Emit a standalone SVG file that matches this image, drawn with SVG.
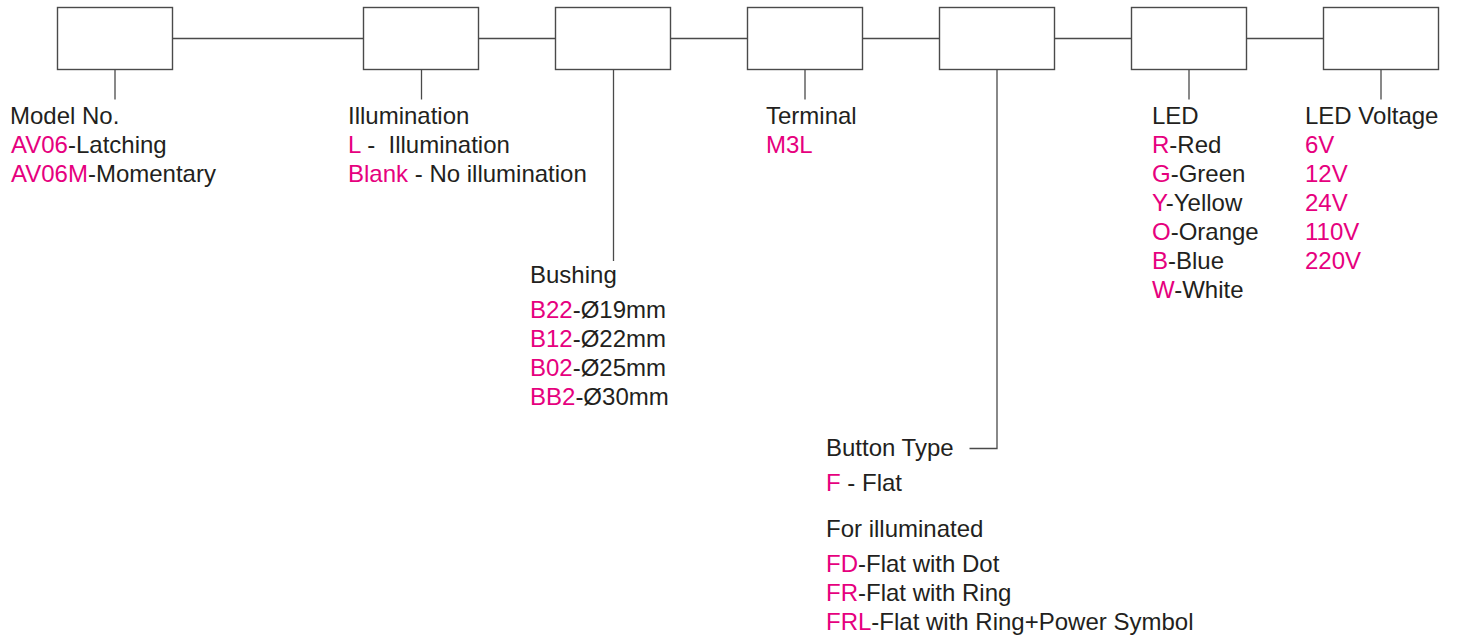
<svg xmlns="http://www.w3.org/2000/svg" width="1457" height="636" viewBox="0 0 1457 636">
<style>
.box{fill:#fff;stroke:#4a4a4a;stroke-width:1.4}
.ln{fill:none;stroke:#4a4a4a;stroke-width:1.3}
text{font-family:"Liberation Sans",Arial,sans-serif;font-size:24px;fill:#231f20;white-space:pre}
.m{fill:#e6007e}
</style>
<rect width="1457" height="636" fill="#fff"/>
<g id="connectors">
<line class="ln" x1="172.5" y1="38.5" x2="363.5" y2="38.5"/>
<line class="ln" x1="478.5" y1="38.5" x2="555.5" y2="38.5"/>
<line class="ln" x1="670.5" y1="38.5" x2="747.5" y2="38.5"/>
<line class="ln" x1="862.5" y1="38.5" x2="939.5" y2="38.5"/>
<line class="ln" x1="1054.5" y1="38.5" x2="1131.5" y2="38.5"/>
<line class="ln" x1="1246.5" y1="38.5" x2="1323.5" y2="38.5"/>
<line class="ln" x1="115" y1="69.5" x2="115" y2="99.5"/>
<line class="ln" x1="421.5" y1="69.5" x2="421.5" y2="99.5"/>
<line class="ln" x1="613.5" y1="69.5" x2="613.5" y2="261"/>
<line class="ln" x1="805" y1="69.5" x2="805" y2="99.5"/>
<polyline class="ln" points="997,69.5 997,448.5 969.5,448.5"/>
<line class="ln" x1="1189" y1="69.5" x2="1189" y2="99.5"/>
<line class="ln" x1="1381" y1="69.5" x2="1381" y2="99.5"/>
</g>
<g id="box1"><rect class="box" x="57.5" y="7.5" width="115" height="62"/></g>
<g id="box2"><rect class="box" x="363.5" y="7.5" width="115" height="62"/></g>
<g id="box3"><rect class="box" x="555.5" y="7.5" width="115" height="62"/></g>
<g id="box4"><rect class="box" x="747.5" y="7.5" width="115" height="62"/></g>
<g id="box5"><rect class="box" x="939.5" y="7.5" width="115" height="62"/></g>
<g id="box6"><rect class="box" x="1131.5" y="7.5" width="115" height="62"/></g>
<g id="box7"><rect class="box" x="1323.5" y="7.5" width="115" height="62"/></g>
<g id="model">
<text x="10" y="124">Model No.</text>
<text x="11" y="153"><tspan class="m">AV06</tspan>-Latching</text>
<text x="11" y="182"><tspan class="m">AV06M</tspan>-Momentary</text>
</g>
<g id="illumination">
<text x="348" y="124">Illumination</text>
<text x="348" y="153"><tspan class="m">L</tspan> -  Illumination</text>
<text x="348" y="182"><tspan class="m">Blank</tspan> - No illumination</text>
</g>
<g id="bushing">
<text x="530" y="283">Bushing</text>
<text x="530" y="318"><tspan class="m">B22</tspan>-Ø19mm</text>
<text x="530" y="347"><tspan class="m">B12</tspan>-Ø22mm</text>
<text x="530" y="376"><tspan class="m">B02</tspan>-Ø25mm</text>
<text x="530" y="405"><tspan class="m">BB2</tspan>-Ø30mm</text>
</g>
<g id="terminal">
<text x="766" y="124">Terminal</text>
<text x="766" y="153" class="m">M3L</text>
</g>
<g id="buttontype">
<text x="826" y="456">Button Type</text>
<text x="826" y="491"><tspan class="m">F</tspan> - Flat</text>
<text x="826" y="537">For illuminated</text>
<text x="826" y="572"><tspan class="m">FD</tspan>-Flat with Dot</text>
<text x="826" y="601"><tspan class="m">FR</tspan>-Flat with Ring</text>
<text x="826" y="630"><tspan class="m">FRL</tspan>-Flat with Ring+Power Symbol</text>
</g>
<g id="led">
<text x="1152" y="124">LED</text>
<text x="1152" y="153"><tspan class="m">R</tspan>-Red</text>
<text x="1152" y="182"><tspan class="m">G</tspan>-Green</text>
<text x="1152" y="211"><tspan class="m">Y</tspan>-Yellow</text>
<text x="1152" y="240"><tspan class="m">O</tspan>-Orange</text>
<text x="1152" y="269"><tspan class="m">B</tspan>-Blue</text>
<text x="1152" y="298"><tspan class="m">W</tspan>-White</text>
</g>
<g id="ledvoltage">
<text x="1305" y="124">LED Voltage</text>
<text x="1305" y="153" class="m">6V</text>
<text x="1305" y="182" class="m">12V</text>
<text x="1305" y="211" class="m">24V</text>
<text x="1305" y="240" class="m">110V</text>
<text x="1305" y="269" class="m">220V</text>
</g>
</svg>
